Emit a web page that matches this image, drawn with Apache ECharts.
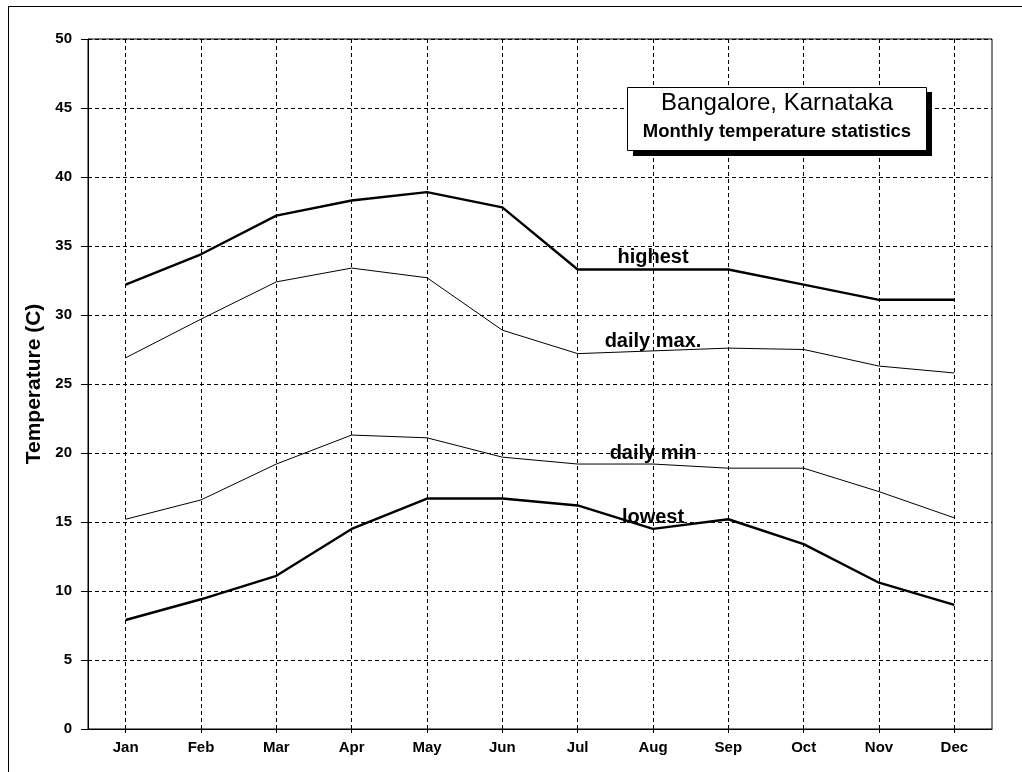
<!DOCTYPE html>
<html>
<head>
<meta charset="utf-8">
<script src="https://cdn.jsdelivr.net/npm/echarts@6/dist/echarts.min.js"></script>
<style>
html,body{margin:0;padding:0;background:#fff;}
#chart{width:1022px;height:772px;}
</style>
</head>
<body>
<div id="chart"></div>
<script>
var months = ['Jan','Feb','Mar','Apr','May','Jun','Jul','Aug','Sep','Oct','Nov','Dec'];
var highest  = [32.2, 34.4, 37.2, 38.3, 38.9, 37.8, 33.3, 33.3, 33.3, 32.2, 31.1, 31.1];
var dailyMax = [26.9, 29.7, 32.4, 33.4, 32.7, 28.9, 27.2, 27.4, 27.6, 27.5, 26.3, 25.8];
var dailyMin = [15.2, 16.6, 19.2, 21.3, 21.1, 19.7, 19.2, 19.2, 18.9, 18.9, 17.2, 15.3];
var lowest   = [7.9, 9.4, 11.1, 14.5, 16.7, 16.7, 16.2, 14.5, 15.2, 13.4, 10.6, 9.0];
var yTicks = [0, 5, 10, 15, 20, 25, 30, 35, 40, 45, 50];
var titleLine1 = 'Bangalore, Karnataka';
var titleLine2 = 'Monthly temperature statistics';
var seriesNames = ['highest', 'daily max.', 'daily min', 'lowest'];

var FONT = '"Liberation Sans", Arial, sans-serif';
var chart = echarts.init(document.getElementById('chart'));

function lineSeries(name, data, width, labelY) {
  return {
    name: name,
    type: 'line',
    data: data,
    symbol: 'none',
    silent: true,
    lineStyle: {color: '#000', width: width},
    markPoint: {
      symbol: 'circle',
      symbolSize: 0,
      silent: true,
      label: {
        show: true,
        formatter: name,
        color: '#000',
        fontFamily: FONT,
        fontWeight: 'bold',
        fontSize: 20,
        position: 'inside'
      },
      data: [{coord: ['Aug', labelY]}]
    },
    z: 3
  };
}

chart.setOption({
  animation: false,
  backgroundColor: '#fff',
  grid: {
    left: 88, top: 39, right: 30, bottom: 43,
    show: true, borderColor: '#000', borderWidth: 1, backgroundColor: 'transparent'
  },
  xAxis: {
    type: 'category',
    data: months,
    boundaryGap: true,
    axisLine: {lineStyle: {color: '#000', width: 1}},
    axisTick: {show: true, alignWithLabel: true, length: 4, lineStyle: {color: '#000'}},
    axisLabel: {color: '#000', fontFamily: FONT, fontSize: 15, fontWeight: 'bold', margin: 11},
    splitLine: {show: true, alignWithLabel: true, lineStyle: {color: '#000', type: [4, 3], width: 1}}
  },
  yAxis: {
    type: 'value',
    min: yTicks[0], max: yTicks[yTicks.length - 1], interval: 5,
    name: 'Temperature (C)',
    nameLocation: 'middle',
    nameGap: 36,
    nameTextStyle: {color: '#000', fontFamily: FONT, fontSize: 21, fontWeight: 'bold'},
    axisLine: {show: true, lineStyle: {color: '#000', width: 1}},
    axisTick: {show: true, length: 7, lineStyle: {color: '#000'}},
    axisLabel: {color: '#000', fontFamily: FONT, fontSize: 15, fontWeight: 'bold', margin: 16},
    splitLine: {show: true, lineStyle: {color: '#000', type: [4, 3], width: 1}}
  },
  series: [
    lineSeries(seriesNames[0], highest, 2.4, 34.2),
    lineSeries(seriesNames[1], dailyMax, 1, 28.1),
    lineSeries(seriesNames[2], dailyMin, 1, 20.0),
    lineSeries(seriesNames[3], lowest, 2.4, 15.3)
  ],
  graphic: [
    {type: 'line', shape: {x1: 8, y1: 6.5, x2: 1022, y2: 6.5}, style: {stroke: '#000', lineWidth: 1}, z: 100},
    {type: 'line', shape: {x1: 8.5, y1: 6, x2: 8.5, y2: 772}, style: {stroke: '#000', lineWidth: 1}, z: 100},
    {type: 'rect', shape: {x: 633, y: 92, width: 299, height: 64}, style: {fill: '#000'}, z: 100},
    {type: 'rect', shape: {x: 627.5, y: 87.5, width: 299, height: 63}, style: {fill: '#fff', stroke: '#000', lineWidth: 1}, z: 101},
    {type: 'text', x: 777, y: 103, style: {text: titleLine1, fill: '#000', font: '24px ' + FONT, textAlign: 'center', textVerticalAlign: 'middle'}, z: 102},
    {type: 'text', x: 777, y: 132, style: {text: titleLine2, fill: '#000', font: 'bold 18.5px ' + FONT, textAlign: 'center', textVerticalAlign: 'middle'}, z: 102}
  ]
});
</script>
</body>
</html>
